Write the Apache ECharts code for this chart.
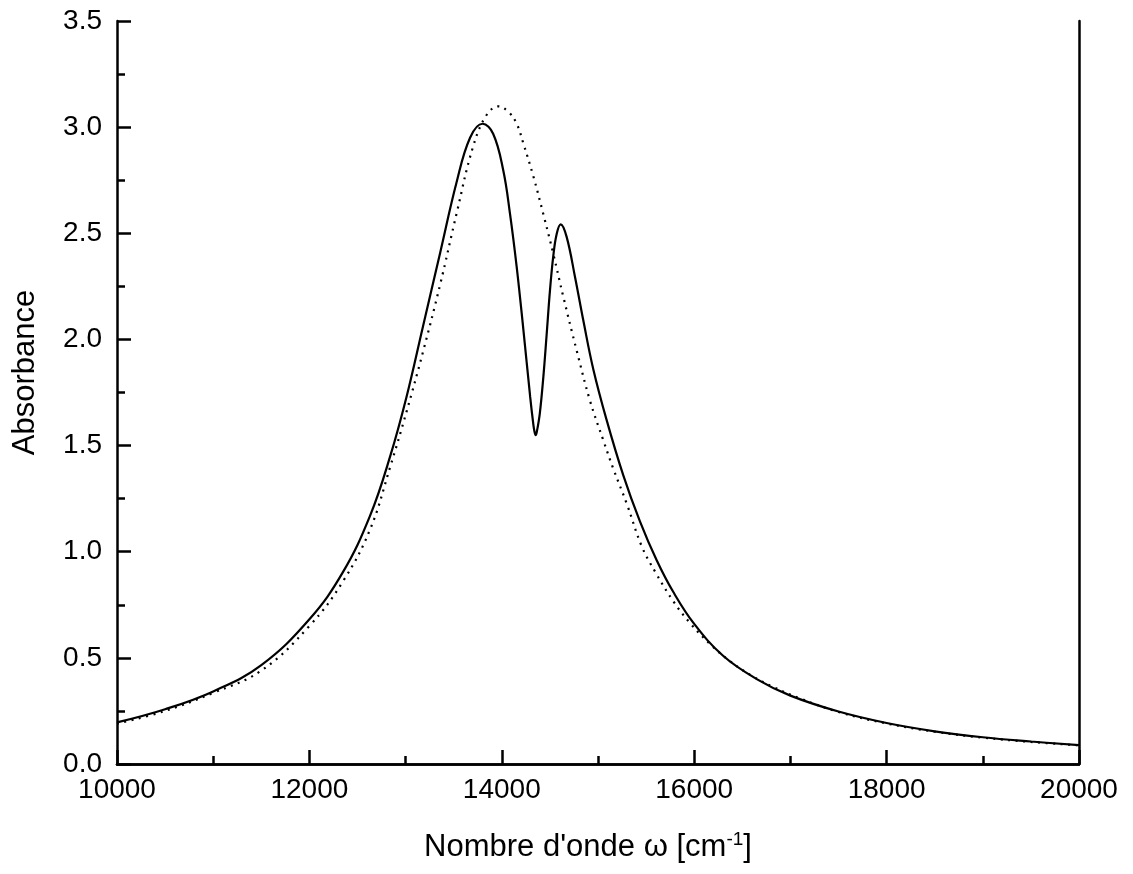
<!DOCTYPE html>
<html>
<head>
<meta charset="utf-8">
<script src="https://cdn.jsdelivr.net/npm/echarts@6/dist/echarts.min.js"></script>
<style>html,body{margin:0;padding:0;background:#fff}#c{width:1133px;height:874px}</style>
</head>
<body>
<div id="c"></div>
<script>
// Solid curve (wavenumber, absorbance)
const solidX = [10000,10500,11000,11500,12000,12350,12630,12840,13010,13180,13360,13530,13670,13800,13910,14015,14085,14155,14225,14295,14325,14340,14352,14364,14395,14432,14467,14501,14536,14571,14612,14674,14761,14847,14951,15090,15263,15437,15610,15783,16000,16300,16650,17000,17500,18000,18500,19000,19500,20000];
const solidY = [0.196,0.258,0.342,0.466,0.682,0.905,1.169,1.450,1.730,2.060,2.410,2.740,2.950,3.016,2.969,2.797,2.593,2.341,2.043,1.729,1.610,1.565,1.549,1.565,1.651,1.824,2.028,2.232,2.396,2.498,2.542,2.483,2.294,2.090,1.860,1.620,1.360,1.142,0.960,0.810,0.660,0.510,0.400,0.322,0.247,0.193,0.154,0.126,0.106,0.089];
// Dotted curve
const dotX = [10000,10500,11000,11500,12000,12350,12630,12840,13010,13180,13360,13530,13700,13840,13965,14070,14155,14225,14330,14430,14535,14640,14780,14915,15055,15160,15300,15455,15595,15785,15955,16165,16370,16600,16825,17100,17500,18000,18500,19000,19500,20000];
const dotY = [0.190,0.250,0.335,0.440,0.650,0.861,1.104,1.400,1.660,1.940,2.260,2.593,2.906,3.056,3.098,3.071,3.016,2.922,2.765,2.593,2.404,2.200,1.945,1.714,1.525,1.390,1.225,1.025,0.905,0.765,0.665,0.565,0.485,0.415,0.362,0.309,0.245,0.191,0.152,0.124,0.104,0.088];
const xTicks = {min:10000, max:20000, interval:2000};
const yTicks = {min:0, max:3.5, interval:0.5};

const FONT = 'Liberation Sans, Arial, sans-serif';
const chart = echarts.init(document.getElementById('c'), null, {renderer:'canvas'});
const axLine = {show:true, lineStyle:{color:'#000', width:2.5}};
chart.setOption({
  animation:false,
  backgroundColor:'#fff',
  grid:{left:117, right:54, top:21, bottom:110, containLabel:false},
  xAxis:[{
    type:'value', position:'bottom', min:xTicks.min, max:xTicks.max, interval:xTicks.interval,
    axisLine:axLine,
    axisTick:{show:true, inside:true, length:14, lineStyle:{color:'#000', width:2.5}},
    minorTick:{show:true, splitNumber:2, length:8, lineStyle:{color:'#000', width:2.5}},
    splitLine:{show:false},
    axisLabel:{color:'#000', fontSize:28, fontFamily:FONT, margin:12, formatter:v=>String(v)},
    name:'{a|Nombre d\'onde ω [cm}{s|-1}{a|]}',
    nameLocation:'middle', nameGap:66,
    nameTextStyle:{rich:{a:{fontSize:31, fontFamily:FONT, color:'#000'}, s:{fontSize:19, fontFamily:FONT, color:'#000', padding:[0,0,16,0]}}, padding:[0,20,0,0]}
  },{
    type:'value', position:'top', min:xTicks.min, max:xTicks.max, interval:xTicks.interval,
    axisLine:axLine, axisTick:{show:false}, axisLabel:{show:false}, splitLine:{show:false}
  }],
  yAxis:[{
    type:'value', position:'left', min:yTicks.min, max:yTicks.max, interval:yTicks.interval,
    axisLine:axLine,
    axisTick:{show:true, inside:true, length:14, lineStyle:{color:'#000', width:2.5}},
    minorTick:{show:true, splitNumber:2, length:8, lineStyle:{color:'#000', width:2.5}},
    splitLine:{show:false},
    axisLabel:{color:'#000', fontSize:28, fontFamily:FONT, margin:15, formatter:v=>v.toFixed(1)},
    name:'Absorbance', nameLocation:'middle', nameGap:76, nameRotate:90,
    nameTextStyle:{fontSize:31, fontFamily:FONT, color:'#000', padding:[0,0,0,40]}
  },{
    type:'value', position:'right', min:yTicks.min, max:yTicks.max, interval:yTicks.interval,
    axisLine:axLine, axisTick:{show:false}, axisLabel:{show:false}, splitLine:{show:false}
  }],
  series:[{
    type:'line', xAxisIndex:0, yAxisIndex:0, showSymbol:false, symbol:'none', smooth:0.4,
    data: dotX.map((x,i)=>[x, dotY[i]]),
    lineStyle:{color:'#000', width:2.2, type:[2,5.5]}, z:2
  },{
    type:'line', xAxisIndex:0, yAxisIndex:0, showSymbol:false, symbol:'none', smooth:0.4,
    data: solidX.map((x,i)=>[x, solidY[i]]),
    lineStyle:{color:'#000', width:2.2}, z:3
  }]
});
</script>
</body>
</html>
